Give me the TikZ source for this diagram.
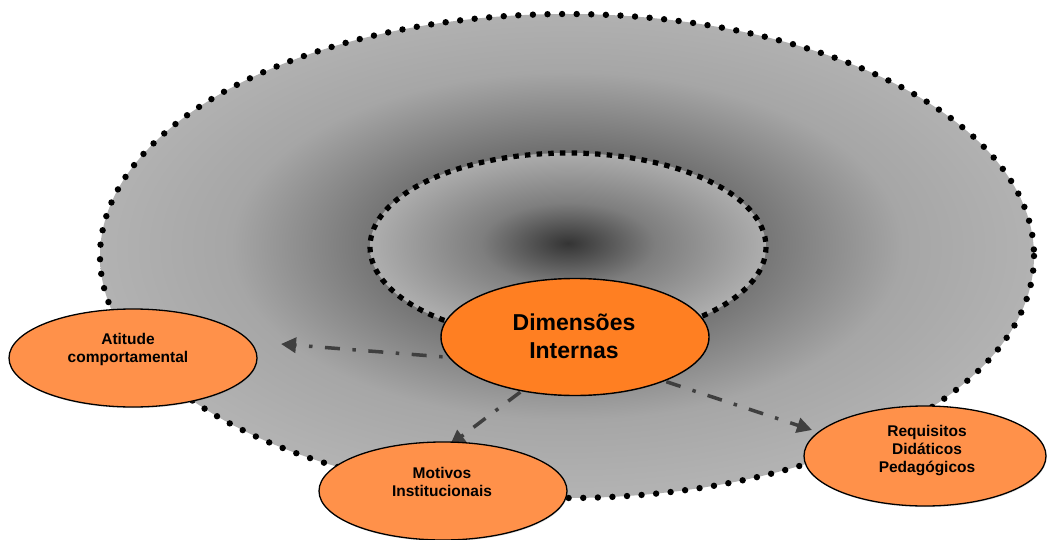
\documentclass[tikz,border=0pt]{standalone}
\usepackage{fontspec}
\setmainfont{Liberation Sans}
\usetikzlibrary{shapes.geometric,arrows.meta,shadows}

\definecolor{haloDark}{HTML}{3A3A3A}
\definecolor{haloMid}{HTML}{727272}
\definecolor{haloLight}{HTML}{A6A6A6}
\definecolor{haloEdge}{HTML}{B2B2B2}
\definecolor{coreDark}{HTML}{343434}
\definecolor{coreMid}{HTML}{7E7E7E}
\definecolor{coreEdge}{HTML}{AEAEAE}
\definecolor{mainOrange}{HTML}{FF7F22}
\definecolor{sideOrange}{HTML}{FF914A}
\definecolor{arrowGray}{HTML}{3F3F3F}

% outer halo: dark around the core, lighter towards the rim
\pgfdeclareradialshading{outerhalo}{\pgfpoint{0bp}{1.6bp}}{%
  color(0bp)=(haloDark); color(10bp)=(haloMid); color(18bp)=(haloLight);
  color(25bp)=(haloEdge); color(50bp)=(haloEdge)}
% inner core: dark spot in the middle
\pgfdeclareradialshading{innercore}{\pgfpoint{0bp}{1bp}}{%
  color(0bp)=(coreDark); color(11bp)=(coreMid); color(25bp)=(coreEdge); color(50bp)=(coreEdge)}

\tikzset{
  mainbubble/.style={ellipse, draw=black, line width=1.4pt, fill=mainOrange,
    inner sep=0pt, drop shadow={shadow xshift=0.6pt, shadow yshift=-1.2pt, opacity=0.25}},
  sidebubble/.style={ellipse, draw=black, line width=1.3pt, fill=sideOrange,
    inner sep=0pt, drop shadow={shadow xshift=0.6pt, shadow yshift=-1.2pt, opacity=0.25}},
  mainlabel/.style={align=center, inner sep=0pt, font=\fontsize{23}{28}\selectfont\bfseries},
  sidelabel/.style={align=center, inner sep=0pt, font=\fontsize{15.5}{18}\selectfont\bfseries},
  flow/.style={draw=arrowGray, line width=3.5pt,
    dash pattern=on 15pt off 12.5pt on 3.5pt off 12.5pt,
    -{Triangle[length=15pt,width=15pt]}},
  outerrim/.style={line width=6.4pt, dash pattern=on 0pt off 14.6pt, line cap=round},
  innerrim/.style={line width=5.2pt, dash pattern=on 5.5pt off 6.2pt, line cap=butt},
}

\begin{document}
\begin{tikzpicture}[x=1pt,y=-1pt]
\useasboundingbox (0,0) rectangle (1048,540);

% shaded rings
\shade[shading=outerhalo] (567,256) ellipse [x radius=467, y radius=242];
\draw[outerrim] (567,256) ellipse [x radius=467, y radius=242];
\shade[shading=innercore] (568,247) ellipse [x radius=198, y radius=94];
\draw[innerrim] (568,247) ellipse [x radius=198, y radius=94];

% arrow ends
\coordinate (startA) at (470,359);
\coordinate (tipA) at (281,344);
\coordinate (startM) at (555,366);
\coordinate (tipM) at (450,445);
\coordinate (startR) at (625,368);
\coordinate (tipR) at (812,430);

\draw[flow] (startA) -- (tipA);
\draw[flow] (startM) -- (tipM);
\draw[flow] (startR) -- (tipR);

% bubbles
\node[mainbubble, minimum width=268pt, minimum height=117pt] (dim) at (575,337) {};
\node[mainlabel] (dimtext) at (574,336) {Dimensões\\Internas};

\node[sidebubble, minimum width=248pt, minimum height=98pt] (atitude) at (133,358) {};
\node[sidelabel] (atitudetext) at (128,349) {Atitude\\comportamental};

\node[sidebubble, minimum width=248pt, minimum height=98pt] (motivos) at (443,491) {};
\node[sidelabel] (motivostext) at (442,482) {Motivos\\Institucionais};

\node[sidebubble, minimum width=242pt, minimum height=100pt] (requisitos) at (925,456) {};
\node[sidelabel] (requisitostext) at (927,451) {Requisitos\\Didáticos\\Pedagógicos};
\end{tikzpicture}
\end{document}
